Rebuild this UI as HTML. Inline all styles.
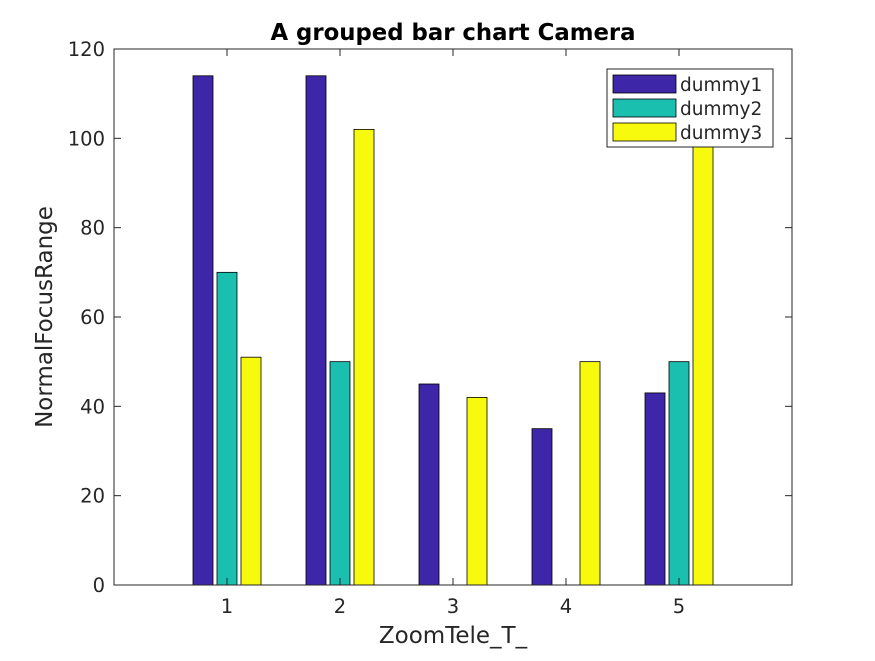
<!DOCTYPE html>
<html><head><meta charset="utf-8"><style>
body{margin:0;background:#fff;}
svg text{font-family:"DejaVu Sans","Liberation Sans",sans-serif;fill:#262626;}
</style></head><body>
<svg id="chart" width="875" height="656" xmlns="http://www.w3.org/2000/svg">
<rect width="875" height="656" fill="#fff"/>
<g id="plot"></g>
</svg>
<script>
const categories=[1,2,3,4,5];
const seriesNames=["dummy1","dummy2","dummy3"];
const dummy1=[114,114,45,35,43];
const dummy2=[70,50,0,0,50];
const dummy3=[51,102,42,50,100];
const yTicks=[0,20,40,60,80,100,120];
const colors=["#3e26a8","#1bbfb0","#f8fa0d"];
const L=114,R=792,T=49,B=585;
const xs=v=>L+(v-0)*(R-L)/6;
const ys=v=>B-v*(B-T)/120;
const ns="http://www.w3.org/2000/svg";
const g=document.getElementById('plot');
function mk(t,a,txt){const e=document.createElementNS(ns,t);for(const k in a)e.setAttribute(k,a[k]);if(txt!==undefined)e.textContent=txt;g.appendChild(e);return e;}
const series=[dummy1,dummy2,dummy3];
const offs=[-24,0,24],bw=20;
series.forEach((s,si)=>{s.forEach((v,i)=>{
 const cx=xs(categories[i])+offs[si];
 const r=mk('rect',{x:cx-bw/2,y:ys(v),width:bw,height:ys(0)-ys(v),fill:colors[si],stroke:'#000','stroke-width':0.8});
 
 
});});
const ax=mk('rect',{x:L,y:T,width:R-L,height:B-T,fill:'none',stroke:'#262626','stroke-width':1});

yTicks.forEach(v=>{const y=ys(v);
 mk('line',{x1:L,x2:L+7,y1:y,y2:y,stroke:'#262626'});mk('line',{x1:R,x2:R-7,y1:y,y2:y,stroke:'#262626'});
 const t=mk('text',{x:L-9,y:y+7,'text-anchor':'end','font-size':19.5},v);
 });
categories.forEach(c=>{const x=xs(c);
 mk('line',{x1:x,x2:x,y1:B,y2:B-7,stroke:'#262626'});mk('line',{x1:x,x2:x,y1:T,y2:T+7,stroke:'#262626'});
 const t=mk('text',{x:x,y:B+28,'text-anchor':'middle','font-size':19.5},c);
 });
let t=mk('text',{x:453,y:40,'text-anchor':'middle','font-size':22.8,'font-weight':'bold',style:'fill:#000'},'A grouped bar chart Camera');

t=mk('text',{x:453,y:643,'text-anchor':'middle','font-size':23},'ZoomTele_T_');

t=mk('text',{x:0,y:0,'text-anchor':'middle','font-size':23,transform:'translate(52,317) rotate(-90)'},'NormalFocusRange');

const lg=mk('rect',{x:607,y:69,width:166,height:78,fill:'#fff',stroke:'#262626'});

seriesNames.forEach((n,i)=>{const y=75+i*24;
 const s=mk('rect',{x:613,y:y,width:63,height:18,fill:colors[i],stroke:'#000','stroke-width':0.8});
 
 const tx=mk('text',{x:680,y:y+16,'font-size':18.5},n);
 });
</script>
</body></html>
